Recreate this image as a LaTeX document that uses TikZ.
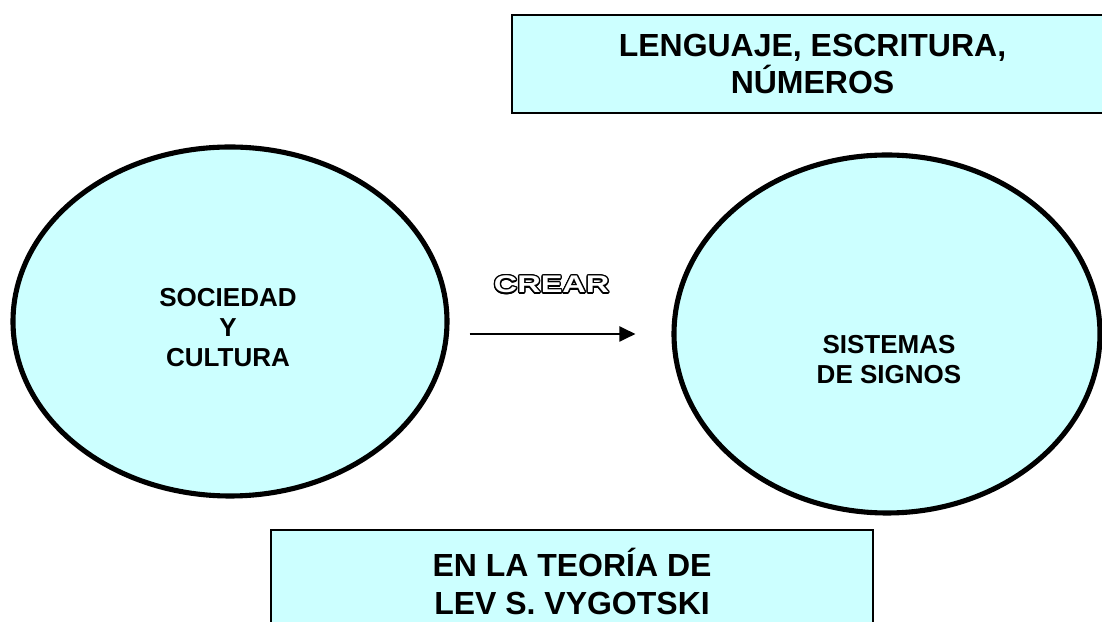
\documentclass[tikz,border=0pt]{standalone}
\usepackage{fontspec}
\setmainfont{Liberation Sans}
\newfontfamily\crearfont[FakeStretch=1.35]{Liberation Sans}
\usepackage{contour}
\contourlength{0.75pt}
\usetikzlibrary{shapes.geometric,arrows.meta}
\definecolor{celeste}{HTML}{CCFFFF}

\tikzset{
	circulo/.style={ellipse, draw=black, fill=celeste, line width=2.9pt, inner sep=0pt},
	recuadro/.style={rectangle, draw=black, fill=celeste, line width=1.1pt, inner sep=0pt, align=center, font=\fontsize{18.2}{21.6}\selectfont\bfseries},
	texto/.style={align=center, inner sep=0pt, font=\fontsize{14.8}{17.1}\selectfont\bfseries},
	flecha/.style={-{Triangle[length=0.32cm,width=0.3cm]}, line width=1.15pt}
}

\begin{document}
\begin{tikzpicture}
		\useasboundingbox (0,0) rectangle (22.04,12.44);
		\clip (0,0) rectangle (22.04,12.44);
		
		\node[recuadro, minimum width=12.02cm, minimum height=1.96cm] (lenguaje) at (16.25,11.16) {LENGUAJE, ESCRITURA,\\NÚMEROS};
		
		\node[circulo, minimum width=8.68cm, minimum height=6.98cm] (sociedad) at (4.60,6.01) {};
		\node[texto] (sociedadtxt) at (4.56,5.89) {SOCIEDAD\\Y\\CULTURA};
		
		\node[circulo, minimum width=8.52cm, minimum height=7.16cm] (sistemas) at (17.74,5.76) {};
		\node[texto] (sistemastxt) at (17.78,5.24) {SISTEMAS\\DE SIGNOS};
		
		\draw[flecha, shorten <=0.4cm, shorten >=0.72cm] (sociedad.east |- sistemas.west) -- (sistemas.west)
			node[pos=0.46, above=0.77cm, inner sep=0pt, text=white, font=\crearfont\fontsize{13.7}{14}\selectfont\bfseries] (crear) {\contour{black}{CREAR}};
		
		\node[recuadro, minimum width=12.04cm, minimum height=2.06cm] (teoria) at (11.44,0.81) {EN LA TEORÍA DE\\LEV S. VYGOTSKI};
		
\end{tikzpicture}
\end{document}
